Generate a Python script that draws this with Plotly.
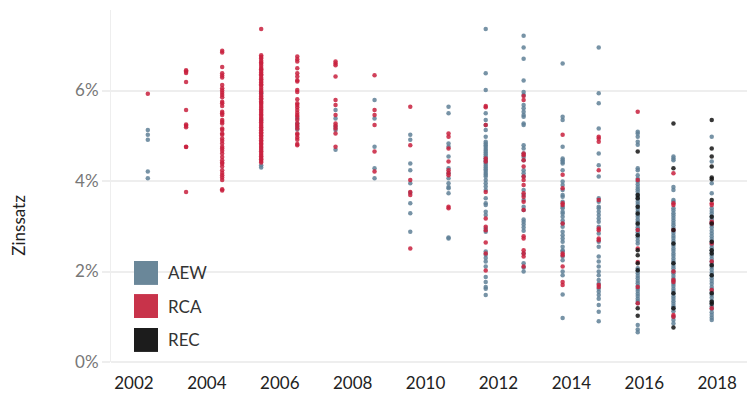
import plotly.graph_objects as go

# Column dates (decimal years) at which deals are grouped
col_dates = [2002.38, 2003.43, 2004.42, 2005.49, 2006.48, 2007.53, 2008.6, 2009.58,
             2010.63, 2011.65, 2012.69, 2013.76, 2014.75, 2015.82, 2016.8, 2017.85]

series_names = ["AEW", "RCA", "REC"]

# Interest rates in percent, one list per column
aew_rates = [
    [5.13, 5.02, 4.91, 4.21, 4.06],
    [],
    [],
    [5.94, 5.35, 4.35, 4.30],
    [5.38, 5.27, 5.20, 5.14],
    [5.57, 5.38, 5.20, 5.13, 4.69],
    [5.79, 5.38, 4.76, 4.28, 4.06],
    [5.02, 4.91, 4.39, 4.24, 3.95, 3.74, 3.51, 3.29, 2.88],
    [5.64, 5.50, 4.83, 4.76, 4.54, 4.28, 4.17, 4.06, 3.95, 3.87, 3.84, 3.73, 2.75, 2.73],
    [7.36, 6.38, 6.01, 5.50, 5.35, 5.24, 5.13, 4.98, 4.87, 4.83, 4.79, 4.75, 4.71, 4.67,
     4.63, 4.59, 4.55, 4.50, 4.46, 4.42, 4.38, 4.34, 4.30, 4.26, 4.22, 4.18, 4.14, 4.10,
     4.02, 3.95, 3.88, 3.80, 3.62, 3.51, 3.47, 3.32, 3.25, 2.95, 2.88, 2.44, 2.37, 2.30,
     2.22, 2.11, 1.88, 1.77, 1.66, 1.62, 1.48],
    [7.21, 6.95, 6.70, 6.22, 5.97, 5.90, 5.68, 5.61, 5.53, 5.46, 5.42, 5.27, 5.24, 4.79,
     4.72, 4.61, 4.53, 4.46, 4.24, 4.17, 4.10, 3.80, 3.69, 3.58, 3.43, 3.36, 3.15, 3.10,
     3.04, 2.97, 2.90, 2.40, 2.18, 2.09, 2.00],
    [6.60, 5.42, 5.35, 4.76, 4.50, 4.46, 4.42, 4.39, 4.24, 3.99, 3.91, 3.80, 3.69, 3.65,
     3.54, 3.43, 3.40, 3.32, 3.28, 3.21, 3.13, 3.06, 2.99, 2.88, 2.80, 2.73, 2.66, 2.55,
     2.47, 2.44, 2.33, 2.25, 2.00, 1.92, 1.49, 0.97],
    [6.95, 5.94, 5.72, 5.16, 4.61, 4.35, 4.10, 3.62, 3.54, 3.43, 3.40, 3.32, 3.25, 3.17,
     3.10, 2.99, 2.84, 2.66, 2.55, 2.33, 2.22, 2.11, 2.00, 1.92, 1.81, 1.73, 1.62, 1.55,
     1.48, 1.40, 1.26, 1.11, 0.90],
    [5.09, 5.05, 4.98, 4.87, 4.80, 4.28, 4.24, 4.13, 4.05, 3.99, 3.93, 3.87, 3.82, 3.77,
     3.71, 3.65, 3.60, 3.54, 3.49, 3.43, 3.38, 3.32, 3.26, 3.21, 3.15, 3.10, 3.04, 2.98,
     2.93, 2.87, 2.81, 2.75, 2.68, 2.62, 2.07, 2.01, 1.96, 1.90, 1.85, 1.79, 1.74, 1.68,
     1.62, 1.57, 1.51, 1.46, 1.40, 1.35, 1.30, 0.82, 0.72, 0.66],
    [4.54, 4.50, 4.46, 3.87, 3.80, 3.58, 3.54, 3.40, 3.35, 3.29, 3.24, 3.18, 3.13, 3.07,
     3.02, 2.96, 2.90, 2.85, 2.79, 2.74, 2.68, 2.62, 2.57, 2.51, 2.46, 2.40, 2.35, 2.29,
     2.23, 2.18, 2.12, 2.07, 2.01, 1.96, 1.90, 1.84, 1.79, 1.73, 1.68, 1.62, 1.57, 1.51,
     1.45, 1.40, 1.34, 1.29, 1.23, 1.18, 1.12, 1.00, 0.93, 0.85],
    [4.98, 4.43, 3.95, 3.73, 3.40, 3.34, 3.28, 3.21, 3.15, 3.09, 3.03, 2.97, 2.90, 2.84,
     2.78, 2.72, 2.66, 2.59, 2.53, 2.47, 2.41, 2.35, 2.28, 2.22, 2.16, 2.10, 2.04, 1.97,
     1.91, 1.85, 1.79, 1.73, 1.66, 1.60, 1.54, 1.48, 1.42, 1.35, 1.29, 1.23, 1.17, 1.10,
     1.04, 0.98, 0.93],
]

rca_rates = [
    [5.93],
    [6.45, 6.42, 6.39, 6.19, 5.57, 5.25, 5.22, 5.19, 4.76, 4.75, 3.76],
    [6.88, 6.84, 6.52, 6.38, 6.33, 6.29, 6.12, 6.05, 6.00, 5.95, 5.90, 5.85, 5.75, 5.72,
     5.66, 5.53, 5.50, 5.46, 5.35, 5.31, 5.27, 5.16, 5.13, 5.05, 5.02, 4.94, 4.89, 4.83,
     4.76, 4.72, 4.67, 4.61, 4.53, 4.46, 4.41, 4.38, 4.32, 4.24, 4.18, 4.13, 4.08, 4.02,
     3.82, 3.79],
    [7.36, 6.78, 6.74, 6.71, 6.66, 6.62, 6.59, 6.55, 6.50, 6.47, 6.44, 6.40, 6.36, 6.33,
     6.28, 6.25, 6.21, 6.18, 6.14, 6.11, 6.06, 6.02, 5.98, 5.95, 5.90, 5.87, 5.83, 5.80,
     5.76, 5.73, 5.70, 5.66, 5.62, 5.58, 5.55, 5.51, 5.47, 5.44, 5.40, 5.37, 5.33, 5.30,
     5.26, 5.22, 5.19, 5.15, 5.12, 5.08, 5.05, 5.01, 4.98, 4.94, 4.90, 4.87, 4.83, 4.80,
     4.76, 4.73, 4.69, 4.66, 4.62, 4.58, 4.55, 4.51, 4.48, 4.44, 4.41],
    [6.75, 6.69, 6.64, 6.49, 6.38, 6.31, 6.23, 6.20, 6.01, 5.97, 5.81, 5.72, 5.68, 5.63,
     5.57, 5.51, 5.46, 5.42, 5.35, 5.27, 5.22, 5.16, 5.05, 5.02, 4.96, 4.91, 4.82, 4.79],
    [6.64, 6.60, 6.56, 6.31, 5.79, 5.68, 5.46, 5.27, 5.22, 5.16, 5.05, 4.76],
    [6.34, 5.57, 5.46, 5.24, 4.65, 4.21],
    [5.64, 4.79, 4.02, 3.76, 3.69, 2.51],
    [5.05, 4.98, 4.72, 4.43, 4.24, 4.18, 4.13, 3.43, 3.40],
    [5.66, 5.63, 5.24, 4.50, 4.43, 3.76, 3.17, 2.99, 2.91, 2.64, 2.40, 2.02],
    [5.88, 5.79, 4.61, 4.57, 4.46, 4.32, 4.10, 4.02, 3.91, 3.73, 3.65, 3.54, 3.36, 2.78,
     2.73, 2.47, 2.40, 2.33, 2.11],
    [5.02, 4.14, 3.84, 3.51, 3.47, 3.06, 2.40, 2.36, 2.11, 1.77, 1.70],
    [4.98, 4.94, 4.87, 4.24, 3.58, 2.95, 2.91, 2.73, 2.69, 1.70, 1.66],
    [5.53, 4.02, 2.92, 2.51, 2.21, 1.66, 1.30],
    [4.17, 3.51, 3.47, 2.92, 2.00, 1.81, 1.77, 1.04, 1.00],
    [3.51, 3.47, 3.10, 3.06, 2.62, 2.22, 1.59, 1.19],
]

rec_rates = [
    [], [], [], [], [], [], [], [], [], [], [], [], [],
    [4.65, 3.69, 3.62, 3.43, 3.28, 3.06, 2.80, 2.47, 2.36, 2.18, 2.03, 1.19, 1.02],
    [5.27, 4.28, 2.92, 2.62, 2.18, 1.52, 1.19, 0.76],
    [5.35, 4.72, 4.54, 4.32, 4.08, 4.04, 3.58, 3.21, 3.06, 2.66, 2.47, 2.40, 2.14, 1.92,
     1.52, 1.33, 1.29],
]

x_tick_years = [2002, 2004, 2006, 2008, 2010, 2012, 2014, 2016, 2018]
y_tick_vals = [0, 2, 4, 6]

marker_colors = {"AEW": "#5f8097", "RCA": "#c8203d", "REC": "#141414"}
legend_colors = {"AEW": "#6a8799", "RCA": "#c8334a", "REC": "#1c1c1c"}

fig = go.Figure()
for name, rates in zip(series_names, [aew_rates, rca_rates, rec_rates]):
    xs, ys = [], []
    for d, vals in zip(col_dates, rates):
        for v in vals:
            xs.append(d)
            ys.append(v / 100)
    fig.add_trace(go.Scatter(
        x=xs, y=ys, mode="markers", name=name, showlegend=False,
        marker=dict(size=4.5, color=marker_colors[name], opacity=0.85,
                    line=dict(width=0)),
    ))

# custom legend (large squares)
leg_x0, leg_x1 = 0.036, 0.0736
leg_tops = [0.287, 0.193, 0.0966]
sq_h = 0.068
for name, top in zip(series_names, leg_tops):
    fig.add_shape(type="rect", xref="paper", yref="paper",
                  x0=leg_x0, x1=leg_x1, y0=top - sq_h, y1=top,
                  fillcolor=legend_colors[name], line=dict(width=0))
    fig.add_annotation(xref="paper", yref="paper", x=0.086, y=top - sq_h / 2,
                       text=name, showarrow=False, xanchor="left", yanchor="middle",
                       font=dict(size=17, color="#333333"))

fig.add_annotation(xref="paper", yref="paper", x=-0.144, y=0.39, text="Zinssatz",
                   showarrow=False, textangle=-90, xanchor="center", yanchor="middle",
                   font=dict(size=17, color="#222222"))

# the page body adds an 8px offset; margins compensate for it
fig.update_layout(
    width=755, height=396,
    margin=dict(l=103, r=13, t=2, b=42),
    paper_bgcolor="white", plot_bgcolor="white",
    font=dict(family="Lato, 'Open Sans', sans-serif"),
    xaxis=dict(range=[2001.37, 2018.9], tickvals=x_tick_years,
               ticktext=[str(y) for y in x_tick_years],
               showgrid=False, zeroline=False, showline=False, ticks="",
               ticklabelstandoff=9,
               tickfont=dict(size=17, color="#222222")),
    yaxis=dict(range=[0, 0.0778], tickvals=[v / 100 for v in y_tick_vals],
               ticktext=[f"{v}%" for v in y_tick_vals],
               showgrid=True, gridcolor="#eeeeee", gridwidth=1.5,
               zeroline=True, zerolinecolor="#eeeeee", zerolinewidth=1.5,
               showline=True, linecolor="#eeeeee", linewidth=1,
               ticks="outside", ticklen=8, tickcolor="#eeeeee", tickwidth=1.5,
               tickfont=dict(size=17, color="#777777")),
)

fig.write_html("out.html")
